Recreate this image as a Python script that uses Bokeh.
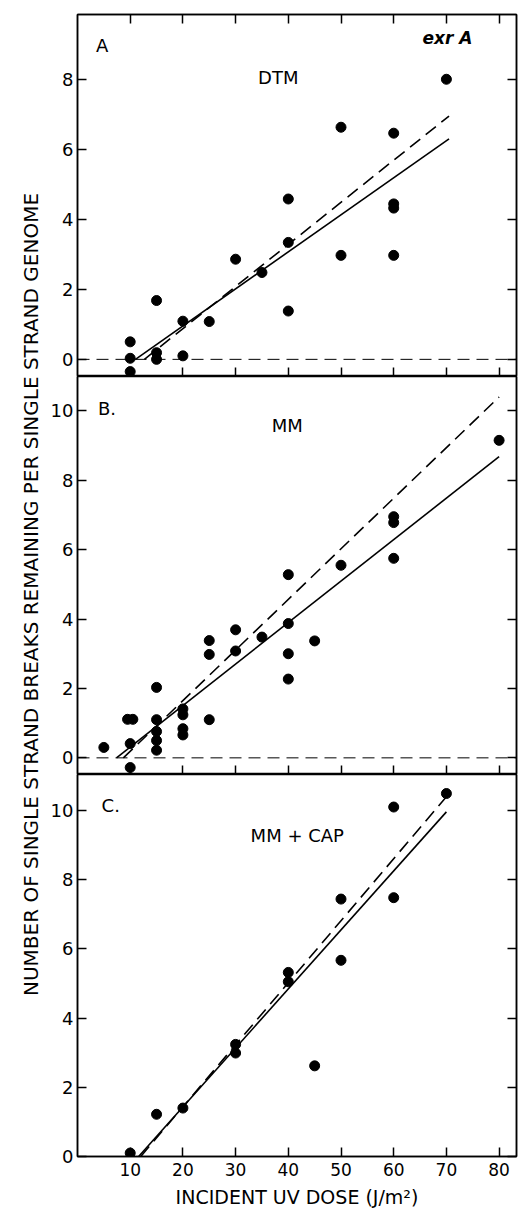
import math
from bokeh.plotting import figure
from bokeh.models import LinearAxis, FixedTicker, Span, Range1d
from bokeh.layouts import row, column
from bokeh.core.properties import value
from bokeh.embed import file_html
from bokeh.resources import INLINE

FONT = "DejaVu Sans"

# ---------------- data ----------------
x_ticks = [10, 20, 30, 40, 50, 60, 70, 80]
y_ticks_A = [0, 2, 4, 6, 8]
y_ticks_BC = [0, 2, 4, 6, 8, 10]

# Panel A : DTM
dose_A = [10, 10, 10, 15, 15, 15, 20, 20, 25, 30, 35, 40, 40, 40, 50, 50, 60, 60, 60, 60, 70]
breaks_A = [0.5, 0.03, -0.35, 1.68, 0.19, 0.0, 1.09, 0.1, 1.08, 2.86, 2.48, 4.58, 3.34, 1.38,
            6.63, 2.97, 6.46, 4.44, 4.32, 2.97, 8.0]
fit_A_x = [11.0, 70.5]
fit_A_y = [0.0, 6.3]
dash_A_x = [12.7, 70.5]
dash_A_y = [0.0, 6.95]

# Panel B : MM
dose_B = [5, 9.5, 10.5, 10, 10, 15, 15, 15, 15, 15, 20, 20, 20, 20, 25, 25, 25, 30, 30, 35,
          40, 40, 40, 40, 45, 50, 60, 60, 60, 80]
breaks_B = [0.3, 1.11, 1.11, 0.41, -0.28, 2.03, 1.1, 0.76, 0.5, 0.22, 1.41, 1.24, 0.84, 0.66,
            3.38, 2.98, 1.1, 3.69, 3.08, 3.48, 5.28, 3.87, 3.0, 2.27, 3.37, 5.55, 6.95, 6.78,
            5.75, 9.15]
fit_B_x = [7.4, 80.0]
fit_B_y = [0.0, 8.68]
dash_B_x = [8.7, 80.0]
dash_B_y = [0.0, 10.4]

# Panel C : MM + CAP
dose_C = [10, 15, 20, 30, 30, 40, 40, 45, 50, 50, 60, 60, 70]
breaks_C = [0.1, 1.22, 1.4, 3.24, 2.99, 5.32, 5.05, 2.62, 7.44, 5.67, 7.48, 10.1, 10.49]
fit_C_x = [11.6, 70.0]
fit_C_y = [0.0, 9.96]
dash_C_x = [12.0, 70.0]
dash_C_y = [0.0, 10.4]

Y_LABEL = "NUMBER OF SINGLE STRAND BREAKS REMAINING PER SINGLE STRAND GENOME"
X_LABEL = "INCIDENT UV DOSE (J/m\u00b2)"

LW = 1.5
X_MAX = 83.3
FRAME_W = 439
STRIP_W = 46
BORDER_L = 77 - STRIP_W
BORDER_R = 8


def style_axis(ax, ticks, labels, size="18px"):
    ax.ticker = FixedTicker(ticks=ticks)
    ax.major_tick_in = 9
    ax.major_tick_out = 0
    ax.minor_tick_in = 0
    ax.minor_tick_out = 0
    ax.axis_line_color = "black"
    ax.axis_line_width = LW
    ax.major_tick_line_color = "black"
    ax.major_tick_line_width = LW
    if labels:
        ax.major_label_text_font = FONT
        ax.major_label_text_font_size = size
        ax.major_label_text_color = "black"
        ax.major_label_standoff = 4
    else:
        ax.major_label_text_font_size = "1px"
        ax.major_label_text_color = None
        ax.major_label_standoff = 0


def make_panel(yr, y_ticks, mt, mb, fh, top_axis=False, x_labels=False):
    p = figure(frame_width=FRAME_W, frame_height=fh,
               x_range=Range1d(0, X_MAX), y_range=Range1d(*yr),
               output_backend="svg", toolbar_location=None,
               min_border_left=BORDER_L, min_border_right=BORDER_R,
               min_border_top=mt, min_border_bottom=mb)
    p.grid.visible = False
    p.outline_line_color = "black"
    p.outline_line_width = LW
    p.background_fill_color = "white"
    p.border_fill_color = "white"
    style_axis(p.yaxis[0], y_ticks, True)
    style_axis(p.xaxis[0], x_ticks, x_labels, "17px")
    ra = LinearAxis()
    style_axis(ra, y_ticks, False)
    p.add_layout(ra, "right")
    if top_axis:
        ta = LinearAxis()
        style_axis(ta, x_ticks, False)
        p.add_layout(ta, "above")
    return p


def add_text(p, x, y, txt, size="18px", style="normal"):
    p.text(x=[x], y=[y], text=[txt], text_font=value(FONT), text_font_size=size,
           text_font_style=style, text_align="center", text_baseline="middle",
           text_color="black")


# Panel A
pA = make_panel((-0.49, 9.85), y_ticks_A, 14, 0, 362, top_axis=True)
pA.add_layout(Span(location=0, dimension="width", line_color="black", line_width=1,
                   line_dash="12 7"))
pA.line(fit_A_x, fit_A_y, line_color="black", line_width=1.6)
pA.line(dash_A_x, dash_A_y, line_color="black", line_width=1.6, line_dash="13 7")
pA.scatter(dose_A, breaks_A, size=10, color="black")
add_text(pA, 4.7, 8.96, "A")
add_text(pA, 38.1, 8.05, "DTM")
add_text(pA, 70.2, 9.19, "exr A", "17px", "bold italic")

# Panel B
pB = make_panel((-0.48, 10.99), y_ticks_BC, 0, 0, 398)
pB.add_layout(Span(location=0, dimension="width", line_color="black", line_width=1,
                   line_dash="12 7"))
pB.line(fit_B_x, fit_B_y, line_color="black", line_width=1.6)
pB.line(dash_B_x, dash_B_y, line_color="black", line_width=1.6, line_dash="13 7")
pB.scatter(dose_B, breaks_B, size=10, color="black")
add_text(pB, 5.6, 10.06, "B.")
add_text(pB, 39.8, 9.58, "MM")

# Panel C
pC = make_panel((0, 11.04), y_ticks_BC, 0, 53, 382, x_labels=True)
xa = pC.xaxis[0]
xa.axis_label = X_LABEL
xa.axis_label_text_font = FONT
xa.axis_label_text_font_size = "19px"
xa.axis_label_text_font_style = "normal"
xa.axis_label_text_color = "black"
xa.axis_label_standoff = 7
xa.major_label_standoff = 6
pC.line(fit_C_x, fit_C_y, line_color="black", line_width=1.6)
pC.line(dash_C_x, dash_C_y, line_color="black", line_width=1.6, line_dash="13 7")
pC.scatter(dose_C, breaks_C, size=10, color="black")
add_text(pC, 6.3, 10.14, "C.")
add_text(pC, 41.7, 9.28, "MM + CAP")

# y label strip
H = 14 + 362 + 398 + 382 + 53
lab = figure(width=STRIP_W, height=H, x_range=Range1d(0, STRIP_W), y_range=Range1d(0, H),
             output_backend="svg", toolbar_location=None, min_border=0,
             x_axis_type=None, y_axis_type=None)
lab.outline_line_color = None
lab.grid.visible = False
lab.text(x=[30], y=[H - 594], text=[Y_LABEL], angle=math.pi / 2,
         text_font=value(FONT), text_font_size="20px", text_align="center",
         text_baseline="middle", text_color="black")

layout = row(lab, column(pA, pB, pC))
open("out.html", "w").write(file_html(layout, INLINE))
